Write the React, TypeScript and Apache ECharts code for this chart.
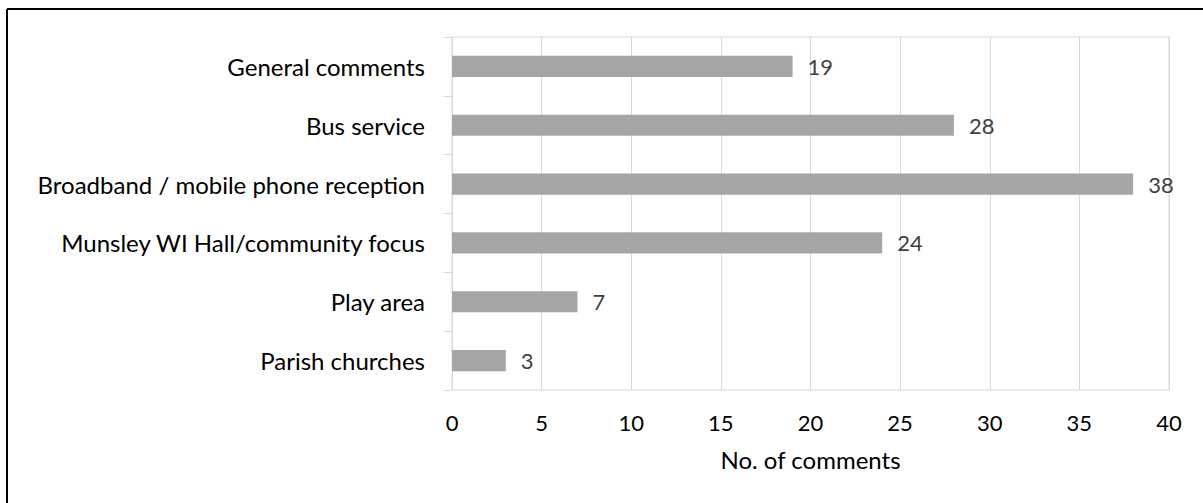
import React, { useEffect, useRef } from "react";
import * as echarts from "echarts";

const categories = [
  "General comments",
  "Bus service",
  "Broadband / mobile phone reception",
  "Munsley WI Hall/community focus",
  "Play area",
  "Parish churches",
];
const counts = [19, 28, 38, 24, 7, 3];
const xTicks = { min: 0, max: 40, interval: 5 };
const xAxisTitle = "No. of comments";

const FONT = "Lato, 'Open Sans', sans-serif";

export default function App() {
  const ref = useRef<HTMLDivElement>(null);
  useEffect(() => {
    if (!ref.current) return;
    const chart = echarts.init(ref.current, null, { renderer: "svg" });
    chart.setOption({
      animation: false,
      backgroundColor: "#ffffff",
      textStyle: { fontFamily: FONT },
      grid: {
        left: 452,
        right: 34,
        top: 37,
        bottom: 113,
        show: true,
        borderColor: "#d9d9d9",
        borderWidth: 1,
      },
      graphic: [
        {
          type: "line",
          shape: { x1: 7, y1: 9, x2: 1203, y2: 9 },
          style: { stroke: "#000", lineWidth: 2 },
        },
        {
          type: "line",
          shape: { x1: 7, y1: 9, x2: 7, y2: 503 },
          style: { stroke: "#000", lineWidth: 2 },
        },
      ],
      xAxis: {
        type: "value",
        min: xTicks.min,
        max: xTicks.max,
        interval: xTicks.interval,
        name: xAxisTitle,
        nameLocation: "middle",
        nameGap: 57,
        nameTextStyle: { fontSize: 24, color: "#000", fontFamily: FONT },
        axisLine: { show: false },
        axisTick: { show: false },
        axisLabel: { fontSize: 22, color: "#000", margin: 21, fontFamily: FONT },
        splitLine: { show: true, lineStyle: { color: "#d9d9d9", width: 1 } },
      },
      yAxis: {
        type: "category",
        data: categories,
        inverse: true,
        axisLine: { show: true, lineStyle: { color: "#d9d9d9", width: 1 } },
        axisTick: { show: true, length: 8, lineStyle: { color: "#d9d9d9" } },
        axisLabel: { fontSize: 24, color: "#000", margin: 27, fontFamily: FONT },
        splitLine: { show: false },
      },
      series: [
        {
          type: "bar",
          data: counts,
          barCategoryGap: "64%",
          itemStyle: { color: "#a5a5a5" },
          label: {
            show: true,
            position: "right",
            distance: 15,
            fontSize: 22,
            color: "#404040",
            fontFamily: FONT,
          },
        },
      ],
    });
    return () => chart.dispose();
  }, []);
  return (
    <div
      ref={ref}
      style={{ position: "absolute", left: 0, top: 0, width: 1203, height: 503 }}
    />
  );
}
